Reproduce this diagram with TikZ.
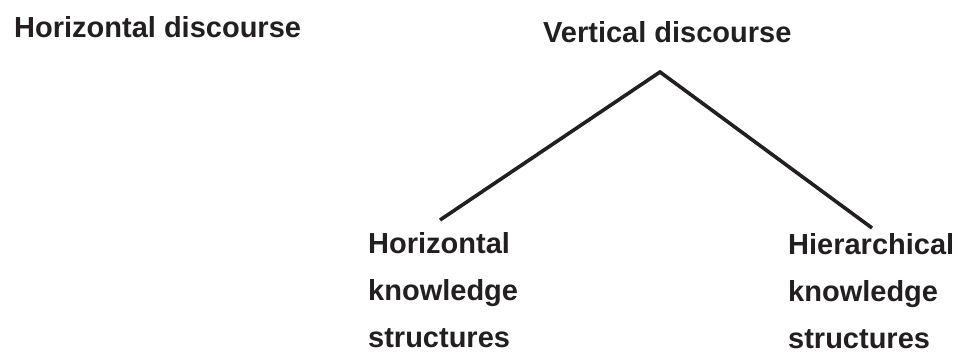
\documentclass[tikz,border=0pt]{standalone}
\usepackage{fontspec}
\setmainfont{Liberation Sans}
\definecolor{ink}{HTML}{231F20}
\tikzset{
  lbl/.style={font=\bfseries\fontsize{29}{47}\selectfont, text=ink, inner sep=0pt, align=left},
  branch/.style={draw=ink, line width=3.6pt, line cap=butt}
}
\begin{document}
\begin{tikzpicture}[x=1pt,y=-1pt]
\useasboundingbox (0,0) rectangle (958,351);
\node[lbl, anchor=base west] (hd) at (14,37) {Horizontal discourse};
\node[lbl, anchor=base west] (vd) at (543,42) {Vertical discourse};
\node[lbl, anchor=north west] (hks) at (368,232.2) {Horizontal\\knowledge\\structures};
\node[lbl, anchor=north west] (rks) at (788,233.2) {Hierarchical\\knowledge\\structures};
\coordinate (apex) at (660,72);
\coordinate (lend) at (440,220);
\coordinate (rend) at (872,228);
\draw[branch, line join=miter] (lend) -- (apex) -- (rend);
\end{tikzpicture}
\end{document}
